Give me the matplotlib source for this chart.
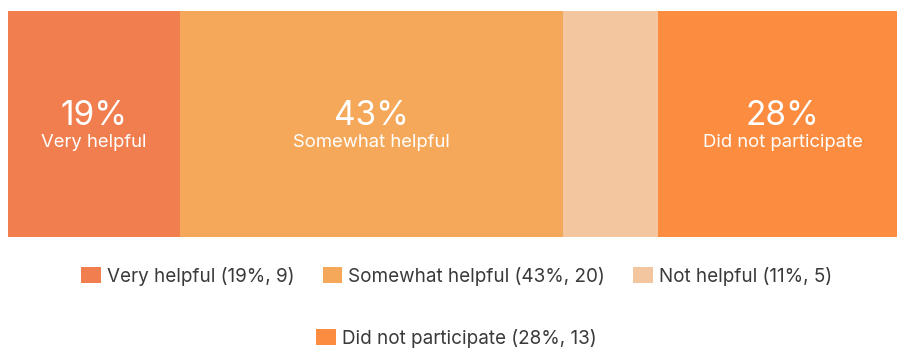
import matplotlib.pyplot as plt
from matplotlib.patches import Patch

categories = ["Very helpful", "Somewhat helpful", "Not helpful", "Did not participate"]
counts = [9, 20, 5, 13]
percents = [19, 43, 11, 28]
colors = ["#F07E4E", "#F5A85A", "#F3C6A0", "#FC8C3F"]
show_label = [True, True, False, True]

plt.rcParams['font.family'] = ['Inter', 'DejaVu Sans']

fig = plt.figure(figsize=(8.97, 3.49), dpi=100)
# bar runs a little past the right edge of the picture, as in the original
ax = fig.add_axes([8 / 897, 112 / 349, 899 / 897, 226 / 349])

left = 0
for cat, n, p, c, lab in zip(categories, counts, percents, colors, show_label):
    ax.barh(0, n, left=left, height=1, color=c, edgecolor='none')
    if lab:
        mid = left + n / 2
        ax.text(mid, -0.005, f"{p}%", ha='center', va='baseline', color='white', fontsize=24)
        ax.text(mid, -0.10, cat, ha='center', va='baseline', color='white', fontsize=13.3)
    left += n

ax.set_xlim(0, sum(counts))
ax.set_ylim(-0.5, 0.5)
ax.axis('off')

handles = [Patch(facecolor=c, edgecolor='none') for c in colors]
labels = [f"{cat} ({p}%, {n})" for cat, p, n in zip(categories, percents, counts)]

leg_style = dict(frameon=False, fontsize=13.6, handlelength=1.05, handleheight=0.95,
                 handletextpad=0.3, columnspacing=1.5, labelcolor='#3a3a3a')
fig.legend(handles[:3], labels[:3], loc='center', bbox_to_anchor=(0.509, 1 - 276 / 349),
           ncol=3, **leg_style)
fig.legend(handles[3:], labels[3:], loc='center', bbox_to_anchor=(0.509, 1 - 338 / 349),
           ncol=1, **leg_style)

fig.savefig("out.png", dpi=100, facecolor='white')
